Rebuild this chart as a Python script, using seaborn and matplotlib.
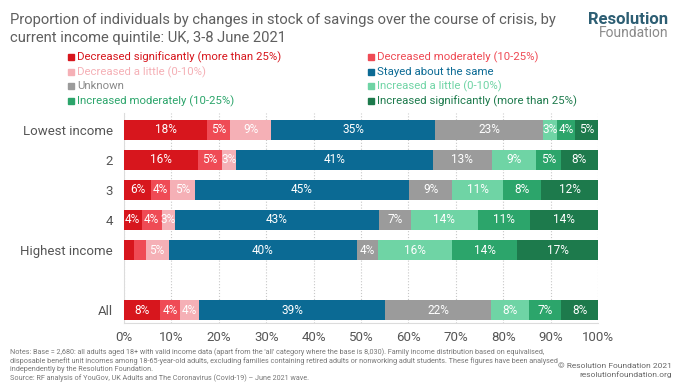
#!/usr/bin/env python3
# savings change by income quintile - stacked horizontal bars
import numpy as np
import pandas as pd
import matplotlib
matplotlib.use("Agg")
import matplotlib.pyplot as plt
import seaborn as sns

# ---------------- data ----------------
groups = ["Lowest income", "2", "3", "4", "Highest income", "All"]
order = ["Lowest income", "2", "3", "4", "Highest income", "", "All"]

series_names = [
    "Decreased significantly (more than 25%)",
    "Decreased moderately (10-25%)",
    "Decreased a little (0-10%)",
    "Stayed about the same",
    "Unknown",
    "Increased a little (0-10%)",
    "Increased moderately (10-25%)",
    "Increased significantly (more than 25%)",
]
dec_sig = [17.6, 15.6, 5.7, 3.7, 2.2, 7.6]
dec_mod = [4.8, 5.1, 4.1, 4.3, 2.4, 4.2]
dec_little = [8.6, 3.0, 5.1, 2.8, 4.8, 4.0]
same = [34.6, 41.4, 45.2, 42.9, 39.7, 39.3]
unknown = [22.9, 12.6, 9.2, 6.8, 4.4, 22.3]
inc_little = [2.8, 9.3, 10.7, 14.1, 15.8, 8.0]
inc_mod = [3.9, 5.1, 8.0, 11.1, 13.7, 6.8]
inc_sig = [4.8, 7.9, 12.0, 14.3, 17.0, 7.8]

colors = ["#d7161d", "#ef4b55", "#f5b0b6", "#0b6a94",
          "#9b9b9b", "#6fd4a5", "#2ca56b", "#1d7a4c"]
text_colors = ["#d7161d", "#ef4b55", "#f5b0b6", "#0b6a94",
               "#8a8a8a", "#6fd4a5", "#2ca56b", "#1d7a4c"]

# ---------------- figure ----------------
sns.set_theme(style="white")
plt.rcParams["font.family"] = ["Roboto", "DejaVu Sans"]

fig = plt.figure(figsize=(6.8, 3.83), dpi=100)
ax = fig.add_axes([124 / 680, 1 - 322.7 / 383, (598 - 124) / 680, (322.7 - 113) / 383])

values = [dec_sig, dec_mod, dec_little, same, unknown, inc_little, inc_mod, inc_sig]
cum = np.cumsum(np.array(values), axis=0)

# draw cumulative totals from the widest down so each layer shows its segment
for k in range(len(values) - 1, -1, -1):
    df = pd.DataFrame({"group": groups, "cum": cum[k]})
    sns.barplot(data=df, x="cum", y="group", order=order, orient="h",
                color=colors[k], width=0.66, errorbar=None, saturation=1,
                linewidth=0, ax=ax, zorder=3)

# segment labels
for k, vals in enumerate(values):
    for g, v in zip(groups, vals):
        if v < 2.5:
            continue
        yi = order.index(g)
        x = cum[k][groups.index(g)] - v / 2
        ax.text(x, yi, f"{v:.0f}%", ha="center", va="center",
                color="white", fontsize=8.5, zorder=5)

ax.set_xlim(0, 100)
ax.set_ylim(6.41, -0.55)
ax.set_xticks(range(0, 101, 10))
ax.set_xticklabels([f"{t}%" for t in range(0, 101, 10)])
ax.set_xlabel("")
ax.set_ylabel("")
ax.xaxis.grid(True, linestyle=":", color="#c8c8c8", linewidth=0.8, zorder=0)
ax.yaxis.grid(False)
ax.set_axisbelow(True)
ax.tick_params(axis="x", length=0, pad=6, labelsize=9.5, labelcolor="#555555")
ax.tick_params(axis="y", length=0, pad=8, labelsize=9.5, labelcolor="#555555")
for s in ["top", "right"]:
    ax.spines[s].set_visible(False)
for s in ["left", "bottom"]:
    ax.spines[s].set_color("#dcdcdc")
    ax.spines[s].set_linewidth(0.8)

# ---------------- title ----------------
fig.text(10 / 680, 1 - 20 / 383,
         "Proportion of individuals by changes in stock of savings over the course of crisis, by",
         fontsize=10.6, color="#5f5f5f", va="center", ha="left")
fig.text(10 / 680, 1 - 38 / 383, "current income quintile: UK, 3-8 June 2021",
         fontsize=10.6, color="#5f5f5f", va="center", ha="left")

# logo
fig.text(668 / 680, 1 - 19 / 383, "Resolution", fontsize=12, fontweight="bold",
         color="#2d5e73", ha="right", va="center")
fig.text(668 / 680, 1 - 33 / 383, "Foundation", fontsize=10, color="#8a8a8a",
         ha="right", va="center")

# ---------------- legend ----------------
leg_x = [68, 368]
leg_y = [57, 72, 86, 101]
for i, name in enumerate(series_names):
    lx = leg_x[i % 2]
    ly = leg_y[i // 2]
    fig.patches.append(plt.Rectangle((lx / 680, 1 - (ly + 3) / 383), 6 / 680, 6 / 383,
                                     transform=fig.transFigure, color=colors[i],
                                     figure=fig))
    fig.text((lx + 9) / 680, 1 - ly / 383, name, fontsize=8.2, color=text_colors[i],
             ha="left", va="center")

# ---------------- notes ----------------
notes = [
    "Notes: Base = 2,680: all adults aged 18+ with valid income data (apart from the 'all' category where the base is 8,030). Family income distribution based on equivalised,",
    "disposable benefit unit incomes among 18-65-year-old adults, excluding families containing retired adults or nonworking adult students. These figures have been analysed",
    "independently by the Resolution Foundation.",
    "Source: RF analysis of YouGov, UK Adults and The Coronavirus (Covid-19) \u2013 June 2021 wave.",
]
for i, line in enumerate(notes):
    fig.text(10 / 680, 1 - (352 + i * 8.7) / 383, line, fontsize=5.2,
             color="#777777", ha="left", va="center")
fig.text(672 / 680, 1 - 366 / 383, "\u00a9 Resolution Foundation 2021", fontsize=6,
         color="#666666", ha="right", va="center")
fig.text(672 / 680, 1 - 375 / 383, "resolutionfoundation.org", fontsize=6,
         color="#666666", ha="right", va="center")

fig.savefig("out.png", dpi=100)
